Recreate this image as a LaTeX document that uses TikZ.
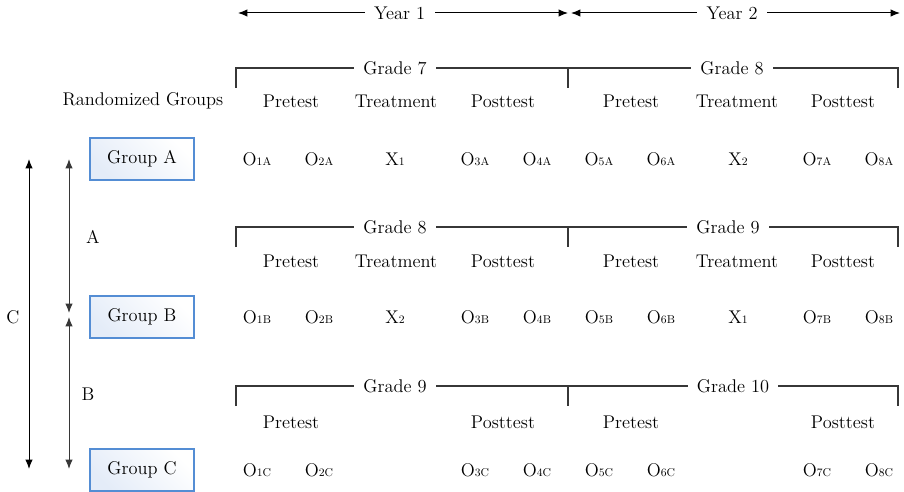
\documentclass[tikz,border=0pt]{standalone}
\usetikzlibrary{arrows.meta}
\definecolor{boxblue}{RGB}{84,141,212}
\definecolor{boxshade}{RGB}{228,236,248}
\definecolor{rulegray}{RGB}{55,55,55}
\newcommand{\obsv}[1]{O{\fontsize{8.5}{9}\selectfont #1}}
\newcommand{\trtm}[1]{X{\fontsize{8.5}{9}\selectfont #1}}

\begin{document}
\begin{tikzpicture}[x=0.75pt,y=-0.75pt]
    \tikzstyle{every node}=[font=\fontsize{13.8}{16}\selectfont]
    \tikzstyle{grpbox}=[draw=boxblue,line width=0.9pt,minimum width=78pt,minimum height=31.5pt,top color=white,bottom color=boxshade,shading angle=-45]
    \tikzstyle{gap}=[fill=white,inner xsep=7pt]
    \tikzstyle{bracket}=[draw=rulegray,line width=0.9pt]
    \tikzstyle{span}=[{Latex[length=7pt,width=5.5pt]}-{Latex[length=7pt,width=5.5pt]},line width=0.75pt]
    \useasboundingbox (0,0) rectangle (904,492);

    % years
    \coordinate (y1l) at (238,13);
    \coordinate (y1r) at (568,13);
    \coordinate (y2l) at (571,13);
    \coordinate (y2r) at (900,13);
    \draw[span] (y1l) -- (y1r) node[gap,pos=0.49] (year1) {Year 1};
    \draw[span] (y2l) -- (y2r) node[gap,pos=0.49] (year2) {Year 2};

    % group A
    \coordinate (r1a) at (236,88);
    \coordinate (r1b) at (236,68);
    \coordinate (r1c) at (568,68);
    \coordinate (r1d) at (568,88);
    \coordinate (r1e) at (898,68);
    \coordinate (r1f) at (898,88);
    \draw[bracket] (r1a) -- (r1b) -- (r1c) -- (r1e) -- (r1f);
    \draw[bracket] (r1c) -- (r1d);
    \node[gap] (gr7a) at (395,68) {Grade 7};
    \node[gap] (gr8a) at (732,68) {Grade 8};
    \node (rand) at (143,101) {Randomized Groups};
    \node (pre1a) at (291,101) {Pretest};
    \node (trt1a) at (396,101) {Treatment};
    \node (post1a) at (503,101) {Posttest};
    \node (pre2a) at (631,101) {Pretest};
    \node (trt2a) at (737,101) {Treatment};
    \node (post2a) at (843,101) {Posttest};
    \node[grpbox] (grpA) at (142,159) {Group A};
    \node (o1a) at (257,159) {\obsv{1A}};
    \node (o2a) at (319,159) {\obsv{2A}};
    \node (x1a) at (395,159) {\trtm{1}};
    \node (o3a) at (475,159) {\obsv{3A}};
    \node (o4a) at (537,159) {\obsv{4A}};
    \node (o5a) at (599,159) {\obsv{5A}};
    \node (o6a) at (661,159) {\obsv{6A}};
    \node (x2a) at (738,159) {\trtm{2}};
    \node (o7a) at (817,159) {\obsv{7A}};
    \node (o8a) at (879,159) {\obsv{8A}};

    % group B
    \coordinate (r2a) at (236,247);
    \coordinate (r2b) at (236,227);
    \coordinate (r2c) at (568,227);
    \coordinate (r2d) at (568,247);
    \coordinate (r2e) at (898,227);
    \coordinate (r2f) at (898,247);
    \draw[bracket] (r2a) -- (r2b) -- (r2c) -- (r2e) -- (r2f);
    \draw[bracket] (r2c) -- (r2d);
    \node[gap] (gr8b) at (395,227) {Grade 8};
    \node[gap] (gr9b) at (728,227) {Grade 9};
    \node (pre1b) at (291,261) {Pretest};
    \node (trt1b) at (396,261) {Treatment};
    \node (post1b) at (503,261) {Posttest};
    \node (pre2b) at (631,261) {Pretest};
    \node (trt2b) at (737,261) {Treatment};
    \node (post2b) at (843,261) {Posttest};
    \node[grpbox] (grpB) at (142,317) {Group B};
    \node (o1b) at (257,317) {\obsv{1B}};
    \node (o2b) at (319,317) {\obsv{2B}};
    \node (x2b) at (395,317) {\trtm{2}};
    \node (o3b) at (475,317) {\obsv{3B}};
    \node (o4b) at (537,317) {\obsv{4B}};
    \node (o5b) at (599,317) {\obsv{5B}};
    \node (o6b) at (661,317) {\obsv{6B}};
    \node (x1b) at (738,317) {\trtm{1}};
    \node (o7b) at (817,317) {\obsv{7B}};
    \node (o8b) at (879,317) {\obsv{8B}};

    % group C
    \coordinate (r3a) at (236,406);
    \coordinate (r3b) at (236,386);
    \coordinate (r3c) at (568,386);
    \coordinate (r3d) at (568,406);
    \coordinate (r3e) at (898,386);
    \coordinate (r3f) at (898,406);
    \draw[bracket] (r3a) -- (r3b) -- (r3c) -- (r3e) -- (r3f);
    \draw[bracket] (r3c) -- (r3d);
    \node[gap] (gr9c) at (395,386) {Grade 9};
    \node[gap] (gr10c) at (733,386) {Grade 10};
    \node (pre1c) at (291,422) {Pretest};
    \node (post1c) at (503,422) {Posttest};
    \node (pre2c) at (631,422) {Pretest};
    \node (post2c) at (843,422) {Posttest};
    \node[grpbox] (grpC) at (142,470) {Group C};
    \node (o1c) at (257,470) {\obsv{1C}};
    \node (o2c) at (319,470) {\obsv{2C}};
    \node (o3c) at (475,470) {\obsv{3C}};
    \node (o4c) at (537,470) {\obsv{4C}};
    \node (o5c) at (599,470) {\obsv{5C}};
    \node (o6c) at (661,470) {\obsv{6C}};
    \node (o7c) at (817,470) {\obsv{7C}};
    \node (o8c) at (879,470) {\obsv{8C}};

    % spans on the left
    \coordinate (ctop) at (29,159);
    \coordinate (cbot) at (29,469);
    \coordinate (atop) at (69,159);
    \coordinate (abot) at (69,313);
    \coordinate (btop) at (69,317);
    \coordinate (bbot) at (69,469);
    \draw[span] (ctop) -- (cbot);
    \draw[span,rulegray] (atop) -- (abot);
    \draw[span,rulegray] (btop) -- (bbot);
    \node (lblC) at (13,317) {C};
    \node (lblA) at (93,237) {A};
    \node (lblB) at (88,394) {B};
\end{tikzpicture}
\end{document}
